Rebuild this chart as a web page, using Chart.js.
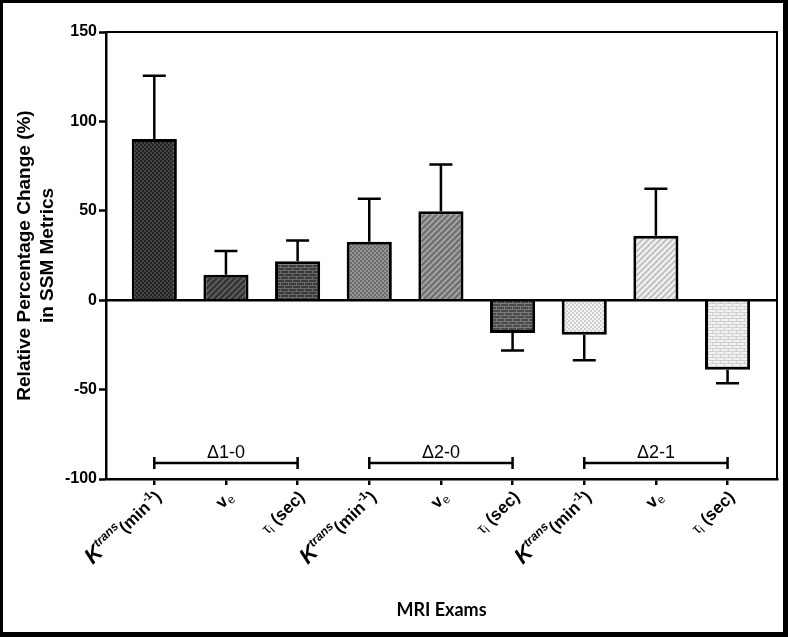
<!DOCTYPE html>
<html>
<head>
<meta charset="utf-8">
<script src="https://cdn.jsdelivr.net/npm/chart.js@4.4.1/dist/chart.umd.min.js"></script>
<style>
  html, body { margin: 0; padding: 0; background: #fff; }
  #wrap { width: 788px; height: 637px; position: relative; }
</style>
</head>
<body>
<div id="wrap"><canvas id="chart"></canvas></div>
<script>
// metric labels: ^{..} = superscript, _{..} = subscript
const categories = [
  'K^{trans}(min^{-1})', 'v_{e}', 'τ_{i} (sec)',
  'K^{trans}(min^{-1})', 'v_{e}', 'τ_{i} (sec)',
  'K^{trans}(min^{-1})', 'v_{e}', 'τ_{i} (sec)'
];
const changeMean = [90.2, 14.3, 21.8, 32.7, 49.8, -18.4, -19.3, 36.1, -38.9];
const changeSem = [35.3, 13.2, 11.6, 24.1, 26.1, 9.8, 14.3, 26.2, 7.5];
const groupNames = ['Δ1-0', 'Δ2-0', 'Δ2-1'];
const groupFirst = [0, 3, 6];
const groupLast = [2, 5, 8];
const bracketLevel = -91;
const yTicks = [-100, -50, 0, 50, 100, 150];

const ARIAL = 'Arial, "Liberation Sans", sans-serif';

// fill patterns, like the prism hatches
function tile(w, h, paint) {
  const c = document.createElement('canvas');
  c.width = w; c.height = h;
  const g = c.getContext('2d');
  paint(g);
  return g.createPattern(c, 'repeat');
}
function checker(a, b) {
  return tile(4, 4, g => {
    g.fillStyle = a; g.fillRect(0, 0, 4, 4);
    g.fillStyle = b; g.fillRect(0, 0, 2, 2); g.fillRect(2, 2, 2, 2);
  });
}
function diag(a, b) {
  return tile(6, 6, g => {
    g.fillStyle = a; g.fillRect(0, 0, 6, 6);
    g.strokeStyle = b; g.lineWidth = 2;
    g.beginPath();
    g.moveTo(-1, 7); g.lineTo(7, -1);
    g.moveTo(-4, 4); g.lineTo(4, -4);
    g.moveTo(2, 10); g.lineTo(10, 2);
    g.stroke();
  });
}
function brick(a, b) {
  return tile(8, 6, g => {
    g.fillStyle = a; g.fillRect(0, 0, 8, 6);
    g.fillStyle = b;
    g.fillRect(0, 0, 8, 1); g.fillRect(0, 3, 8, 1);
    g.fillRect(0, 0, 1, 3); g.fillRect(4, 3, 1, 3);
  });
}
const barFills = [
  checker('#454545', '#242424'),
  diag('#323232', '#5c5c5c'),
  brick('#3a3a3a', '#6a6a6a'),
  checker('#969696', '#6c6c6c'),
  diag('#6e6e6e', '#a2a2a2'),
  brick('#4a4a4a', '#7a7a7a'),
  checker('#f4f4f4', '#cecece'),
  diag('#f2f2f2', '#c2c2c2'),
  brick('#f2f2f2', '#d0d0d0')
];

function parseRich(s) {
  const out = [];
  const re = /([\^_])\{([^}]*)\}/g;
  let last = 0, m;
  while ((m = re.exec(s)) !== null) {
    if (m.index > last) out.push({ t: s.slice(last, m.index), kind: 'base' });
    out.push({ t: m[2], kind: m[1] === '^' ? 'sup' : 'sub' });
    last = re.lastIndex;
  }
  if (last < s.length) out.push({ t: s.slice(last), kind: 'base' });
  return out;
}
function segStyle(seg, prev) {
  if (seg.kind === 'base') {
    if (seg.t === 'K') return { font: 'italic bold 22px ' + ARIAL, dy: 0 };
    if (seg.t === 'τ') return { font: '15px ' + ARIAL, dy: 0 };
    return { font: 'bold 17px ' + ARIAL, dy: 0 };
  }
  if (seg.kind === 'sup') {
    if (prev && prev.t === 'K') return { font: 'italic bold 12px ' + ARIAL, dy: -9 };
    return { font: 'bold 11px ' + ARIAL, dy: -8 };
  }
  return { font: '12px ' + ARIAL, dy: 3 };
}
function drawRich(ctx, text, x, y, angle) {
  const segs = parseRich(text);
  let total = 0;
  segs.forEach((s, i) => {
    s.st = segStyle(s, segs[i - 1]);
    ctx.font = s.st.font;
    s.w = ctx.measureText(s.t).width;
    total += s.w;
  });
  ctx.save();
  ctx.translate(x, y);
  ctx.rotate(angle);
  ctx.textAlign = 'left';
  ctx.textBaseline = 'alphabetic';
  ctx.fillStyle = '#000';
  let cx = -total;
  segs.forEach(s => {
    ctx.font = s.st.font;
    ctx.fillText(s.t, cx, s.st.dy);
    cx += s.w;
  });
  ctx.restore();
}

const decorations = {
  id: 'decorations',
  afterDatasetsDraw(chart) {
    // one-sided error bars
    const ctx = chart.ctx;
    const y = chart.scales.y;
    const bars = chart.getDatasetMeta(0).data;
    ctx.save();
    ctx.strokeStyle = '#000';
    ctx.lineWidth = 2.5;
    bars.forEach((bar, i) => {
      const m = changeMean[i];
      const tip = m + (m >= 0 ? changeSem[i] : -changeSem[i]);
      const y0 = y.getPixelForValue(m);
      const y1 = y.getPixelForValue(tip);
      ctx.beginPath();
      ctx.moveTo(bar.x, y0); ctx.lineTo(bar.x, y1);
      ctx.moveTo(bar.x - 11.5, y1); ctx.lineTo(bar.x + 11.5, y1);
      ctx.stroke();
    });
    // zero line over the bar bases
    const z = y.getPixelForValue(0);
    const a = chart.chartArea;
    ctx.beginPath();
    ctx.moveTo(a.left, z); ctx.lineTo(a.right, z);
    ctx.stroke();
    ctx.restore();
  },
  afterDraw(chart) {
    const ctx = chart.ctx;
    const { x, y } = chart.scales;
    const a = chart.chartArea;
    ctx.save();
    // top/right frame of the plot box
    ctx.strokeStyle = '#000';
    ctx.lineWidth = 2;
    ctx.beginPath();
    ctx.moveTo(a.left, a.top); ctx.lineTo(a.right, a.top); ctx.lineTo(a.right, a.bottom);
    ctx.stroke();

    // group brackets
    const by = y.getPixelForValue(bracketLevel);
    ctx.lineWidth = 2.5;
    groupNames.forEach((name, g) => {
      const x0 = x.getPixelForValue(groupFirst[g]);
      const x1 = x.getPixelForValue(groupLast[g]);
      ctx.beginPath();
      ctx.moveTo(x0, by); ctx.lineTo(x1, by);
      ctx.moveTo(x0, by - 6); ctx.lineTo(x0, by + 6);
      ctx.moveTo(x1, by - 6); ctx.lineTo(x1, by + 6);
      ctx.stroke();
      ctx.font = '18px ' + ARIAL;
      ctx.fillStyle = '#000';
      ctx.textAlign = 'center';
      ctx.textBaseline = 'alphabetic';
      ctx.fillText(name, (x0 + x1) / 2, by - 5);
    });

    // rotated metric labels
    categories.forEach((c, i) => {
      const px = x.getPixelForValue(i);
      drawRich(ctx, c, px + 8, 498, -44 * Math.PI / 180);
    });

    // outer picture frame
    ctx.fillStyle = '#000';
    ctx.fillRect(0, 0, 788, 3);
    ctx.fillRect(0, 0, 3, 637);
    ctx.fillRect(783, 0, 5, 637);
    ctx.fillRect(0, 632, 788, 5);
    ctx.restore();
  }
};

new Chart(document.getElementById('chart'), {
  type: 'bar',
  data: {
    datasets: [{
      data: changeMean.map((v, i) => ({ x: i, y: v })),
      backgroundColor: barFills,
      borderColor: '#000',
      borderWidth: 3,
      borderSkipped: 'start',
      categoryPercentage: 1,
      barPercentage: 0.63
    }]
  },
  options: {
    responsive: true,
    maintainAspectRatio: false,
    animation: false,
    layout: { padding: { top: 32, right: 11, bottom: 0, left: 0 } },
    plugins: { legend: { display: false }, tooltip: { enabled: false } },
    scales: {
      x: {
        type: 'linear',
        offset: false,
        min: -0.674,
        max: 8.69,
        afterBuildTicks: s => { s.ticks = categories.map((c, i) => ({ value: i })); },
        afterFit: s => { s.height = 158; },
        ticks: { display: false },
        grid: { offset: false, drawOnChartArea: false, color: '#000', lineWidth: 2.5, tickLength: 6 },
        border: { color: '#000', width: 2.5 },
        title: {
          display: true,
          text: 'MRI Exams',
          color: '#000',
          font: { family: 'Lato, "Open Sans", sans-serif', weight: 'bold', size: 18 },
          padding: { top: 0, bottom: 16 }
        }
      },
      y: {
        min: -100,
        max: 150,
        afterBuildTicks: s => { s.ticks = yTicks.map(v => ({ value: v })); },
        afterFit: s => { s.width = 106; },
        ticks: { color: '#000', padding: 2, font: { family: ARIAL, weight: 'bold', size: 16 } },
        grid: {
          drawOnChartArea: false,
          color: '#000',
          tickLength: 7,
          tickWidth: 2.5
        },
        border: { color: '#000', width: 2.5 },
        title: {
          display: true,
          text: ['Relative Percentage Change (%)', 'in SSM Metrics'],
          color: '#000',
          font: { family: ARIAL, weight: 'bold', size: 19, lineHeight: '23px' },
          padding: { top: 13, bottom: 0 }
        }
      }
    }
  },
  plugins: [decorations]
});
</script>
</body>
</html>
